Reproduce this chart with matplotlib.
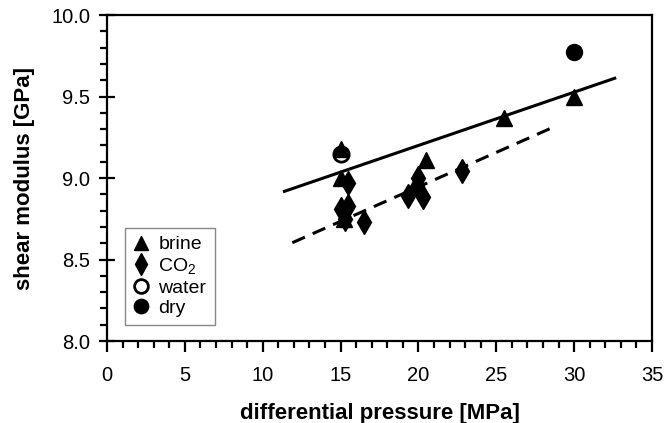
import matplotlib
matplotlib.use("Agg")
import matplotlib.pyplot as plt
from matplotlib.ticker import MultipleLocator, FormatStrFormatter

plt.rcParams['font.family'] = ['Liberation Sans', 'DejaVu Sans']
plt.rcParams['mathtext.fontset'] = 'custom'
plt.rcParams['mathtext.rm'] = 'Liberation Sans'
plt.rcParams['mathtext.it'] = 'Liberation Sans'
plt.rcParams['mathtext.bf'] = 'Liberation Sans:bold'

# data
brine_x = [15.0, 15.0, 15.2, 20.5, 25.5, 30.0]
brine_y = [9.18, 9.00, 8.75, 9.11, 9.37, 9.50]
co2_x = [15.5, 15.0, 15.5, 15.3, 16.5, 19.35, 20.3, 20.0, 19.9, 22.8]
co2_y = [8.97, 8.81, 8.83, 8.75, 8.73, 8.89, 8.885, 9.00, 8.95, 9.04]
water_x = [15.0]
water_y = [9.15]
dry_x = [30.0]
dry_y = [9.77]
fit_brine_x = [11.3, 32.7]
fit_brine_y = [8.915, 9.615]
fit_co2_x = [11.9, 28.5]
fit_co2_y = [8.603, 9.305]

fig = plt.figure(figsize=(6.64, 4.23), dpi=100)
ax = fig.add_axes([107/664, 1-341/423, (652-107)/664, (341-15)/423])

ax.plot(fit_brine_x, fit_brine_y, color='black', lw=2.2, solid_capstyle='butt', zorder=2)
ax.plot(fit_co2_x, fit_co2_y, color='black', lw=2.2, dashes=(4.5, 2.8), zorder=2)

ax.plot(water_x, water_y, 'o', ms=11, mfc='white', mec='black', mew=2, ls='none', zorder=3, label='water')
ax.plot(dry_x, dry_y, 'o', ms=11.5, color='black', ls='none', zorder=3, label='dry')
ax.plot(brine_x, brine_y, '^', ms=11, color='black', ls='none', zorder=4, label='brine')
ax.plot(co2_x, co2_y, 'd', ms=12, color='black', ls='none', zorder=5, label='CO$_2$')

ax.set_xlim(0, 35)
ax.set_ylim(8.0, 10.0)
ax.xaxis.set_major_locator(MultipleLocator(5))
ax.xaxis.set_minor_locator(MultipleLocator(1))
ax.yaxis.set_major_locator(MultipleLocator(0.5))
ax.yaxis.set_minor_locator(MultipleLocator(0.1))
ax.yaxis.set_major_formatter(FormatStrFormatter('%.1f'))

for s in ax.spines.values():
    s.set_linewidth(1.6)

ax.tick_params(axis='y', which='major', direction='inout', length=11, width=1.6, labelsize=14.5, pad=6.5)
ax.tick_params(axis='y', which='minor', direction='out', length=5, width=1.6)
ax.tick_params(axis='x', which='major', direction='out', length=8, width=1.6, labelsize=14.5, pad=10)
ax.tick_params(axis='x', which='minor', direction='out', length=5, width=1.6)

ax.set_xlabel('differential pressure [MPa]', fontsize=16, fontweight='bold', labelpad=13)
ax.set_ylabel('shear modulus [GPa]', fontsize=16, fontweight='bold', labelpad=12)

h, l = ax.get_legend_handles_labels()
order = [2, 3, 0, 1]
leg = ax.legend([h[i] for i in order], [l[i] for i in order], loc='lower left',
                bbox_to_anchor=(0.033, 0.049), borderaxespad=0, fontsize=14,
                frameon=True, fancybox=False, edgecolor='#888888', framealpha=1,
                handlelength=0.8, handletextpad=0.5, labelspacing=0.14,
                borderpad=0.42, markerscale=0.9)
leg.get_frame().set_linewidth(1.0)

fig.savefig('out.png', dpi=100)
